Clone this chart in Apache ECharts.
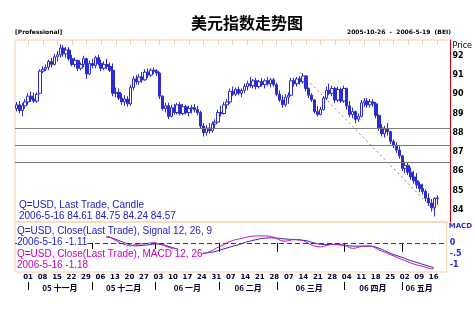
<!DOCTYPE html>
<html><head><meta charset="utf-8">
<script src="https://cdn.jsdelivr.net/npm/echarts@6/dist/echarts.min.js"></script>
<style>html,body{margin:0;padding:0;background:#fff}#c{width:475px;height:313px}</style>
</head><body><div id="c"></div>
<script>
const dates = [
'2005-10-26','2005-10-27','2005-10-28','2005-10-31',
'2005-11-01','2005-11-02','2005-11-03','2005-11-04','2005-11-07','2005-11-08','2005-11-09','2005-11-10','2005-11-11','2005-11-14','2005-11-15','2005-11-16','2005-11-17','2005-11-18','2005-11-21','2005-11-22','2005-11-23','2005-11-24','2005-11-25','2005-11-28','2005-11-29','2005-11-30',
'2005-12-01','2005-12-02','2005-12-05','2005-12-06','2005-12-07','2005-12-08','2005-12-09','2005-12-12','2005-12-13','2005-12-14','2005-12-15','2005-12-16','2005-12-19','2005-12-20','2005-12-21','2005-12-22','2005-12-23','2005-12-26','2005-12-27','2005-12-28','2005-12-29','2005-12-30',
'2006-01-02','2006-01-03','2006-01-04','2006-01-05','2006-01-06','2006-01-09','2006-01-10','2006-01-11','2006-01-12','2006-01-13','2006-01-16','2006-01-17','2006-01-18','2006-01-19','2006-01-20','2006-01-23','2006-01-24','2006-01-25','2006-01-26','2006-01-27','2006-01-30','2006-01-31',
'2006-02-01','2006-02-02','2006-02-03','2006-02-06','2006-02-07','2006-02-08','2006-02-09','2006-02-10','2006-02-13','2006-02-14','2006-02-15','2006-02-16','2006-02-17','2006-02-20','2006-02-21','2006-02-22','2006-02-23','2006-02-24','2006-02-27','2006-02-28',
'2006-03-01','2006-03-02','2006-03-03','2006-03-06','2006-03-07','2006-03-08','2006-03-09','2006-03-10','2006-03-13','2006-03-14','2006-03-15','2006-03-16','2006-03-17','2006-03-20','2006-03-21','2006-03-22','2006-03-23','2006-03-24','2006-03-27','2006-03-28','2006-03-29','2006-03-30','2006-03-31',
'2006-04-03','2006-04-04','2006-04-05','2006-04-06','2006-04-07','2006-04-10','2006-04-11','2006-04-12','2006-04-13','2006-04-14','2006-04-17','2006-04-18','2006-04-19','2006-04-20','2006-04-21','2006-04-24','2006-04-25','2006-04-26','2006-04-27','2006-04-28',
'2006-05-01','2006-05-02','2006-05-03','2006-05-04','2006-05-05','2006-05-08','2006-05-09','2006-05-10','2006-05-11','2006-05-12','2006-05-15','2006-05-16','2006-05-17','2006-05-18','2006-05-19','2006-05-22'
];

const candleOpen = [
89.25,89.45,89.15,89.40,89.60,89.90,89.75,89.65,90.05,91.20,91.30,91.40,91.70,91.55,91.95,92.05,92.40,92.10,92.30,91.85,
91.55,91.75,91.35,91.55,91.85,91.05,91.60,91.50,91.90,91.60,91.35,91.55,91.45,91.25,90.05,90.10,89.80,89.60,89.75,89.50,
90.35,90.80,90.65,90.90,90.75,91.15,91.00,91.25,91.20,91.10,89.90,89.25,89.40,88.85,89.30,89.05,89.45,89.00,89.35,89.05,
89.25,89.30,89.20,89.05,88.35,88.00,88.25,88.10,88.45,88.55,89.05,89.00,89.45,89.60,90.15,90.00,90.25,90.05,90.20,90.40,
90.55,90.45,90.70,90.40,90.65,90.50,90.70,90.55,90.75,90.50,90.00,89.70,89.45,89.85,89.95,90.70,90.55,90.80,90.65,90.95,
90.30,89.95,89.70,89.10,88.95,89.20,89.80,90.20,90.05,90.30,89.70,90.25,89.65,90.30,89.40,88.95,89.10,88.70,88.85,89.55,
89.65,89.45,89.60,89.50,88.90,88.25,87.95,88.20,88.05,87.55,87.35,87.10,86.80,86.15,86.30,85.95,85.70,85.50,85.30,85.10,
84.95,84.60,84.35,84.10,84.61];
const candleHigh = [
89.60,89.65,89.55,89.75,90.05,90.15,90.10,90.10,91.30,91.45,91.55,91.80,91.90,92.10,92.25,92.60,92.55,92.45,92.45,92.05,
91.90,91.80,91.65,92.00,91.90,91.75,91.85,92.00,92.05,91.80,91.70,91.85,91.65,91.60,90.35,90.30,90.05,89.95,89.90,90.50,
90.95,91.00,91.05,91.15,91.30,91.35,91.35,91.40,91.30,91.15,89.95,89.55,89.55,89.45,89.50,89.55,89.60,89.50,89.45,89.40,
89.45,89.50,89.40,89.15,88.50,88.40,88.50,88.60,88.70,89.20,89.40,89.60,89.75,90.30,90.40,90.35,90.40,90.30,90.55,90.70,
90.90,90.80,90.85,90.75,90.85,90.80,90.90,90.85,90.85,90.60,90.20,89.95,90.00,90.10,90.85,90.85,90.90,90.95,91.10,91.00,
90.35,90.05,89.75,89.40,89.35,89.90,90.40,90.55,90.45,90.40,90.40,90.35,90.45,90.35,89.65,89.30,89.15,89.00,89.70,89.80,
89.80,89.75,89.75,89.60,88.95,88.45,88.35,88.50,88.10,87.65,87.50,87.30,86.85,86.50,86.45,86.20,86.00,85.90,85.45,85.35,
85.05,84.85,84.55,84.65,84.75];
const candleLow = [
89.10,89.00,88.85,89.25,89.45,89.60,89.55,89.55,90.00,91.10,91.20,91.25,91.40,91.50,91.70,91.90,91.95,91.90,91.75,91.45,
91.40,91.20,91.25,91.40,90.80,91.00,91.35,91.35,91.50,91.20,91.25,91.30,91.15,89.90,89.85,89.70,89.45,89.40,89.35,89.40,
90.20,90.50,90.50,90.60,90.70,90.85,90.90,91.05,90.95,89.75,89.15,89.05,88.70,88.80,88.95,88.95,88.90,88.90,88.95,88.85,
89.00,89.05,88.90,88.20,87.80,87.85,87.95,88.00,88.20,88.50,88.85,88.95,89.25,89.50,89.90,89.90,89.95,89.85,90.05,90.20,
90.35,90.30,90.25,90.30,90.40,90.30,90.45,90.35,90.40,89.90,89.60,89.30,89.35,89.50,89.90,90.40,90.40,90.50,90.55,90.15,
89.80,89.60,89.00,88.85,88.90,89.15,89.70,89.95,89.90,89.55,89.60,89.55,89.55,89.20,88.80,88.75,88.50,88.55,88.80,89.35,
89.30,89.30,89.35,88.75,88.10,87.80,87.75,87.85,87.40,87.20,86.95,86.65,86.00,85.90,85.80,85.55,85.35,85.10,84.90,84.80,
84.45,84.20,83.90,83.65,84.24];
const candleClose = [
89.45,89.15,89.40,89.60,89.90,89.75,89.65,90.00,91.20,91.30,91.40,91.70,91.55,91.95,92.05,92.40,92.10,92.30,91.85,91.55,
91.75,91.35,91.55,91.85,91.05,91.60,91.50,91.90,91.60,91.35,91.55,91.45,91.25,90.05,90.10,89.80,89.60,89.75,89.50,90.35,
90.80,90.65,90.90,90.75,91.15,91.00,91.25,91.20,91.10,89.90,89.25,89.40,88.85,89.30,89.05,89.45,89.00,89.35,89.05,89.25,
89.30,89.20,89.05,88.35,88.00,88.25,88.10,88.45,88.55,89.05,89.00,89.45,89.60,90.15,90.00,90.25,90.05,90.20,90.40,90.55,
90.45,90.70,90.40,90.65,90.50,90.70,90.55,90.75,90.50,90.00,89.70,89.45,89.85,89.95,90.70,90.55,90.80,90.65,90.95,90.30,
89.95,89.70,89.10,88.95,89.20,89.80,90.20,90.05,90.30,89.70,90.25,89.65,90.30,89.40,88.95,89.10,88.70,88.85,89.55,89.65,
89.45,89.60,89.50,88.90,88.25,87.95,88.20,88.05,87.55,87.35,87.10,86.80,86.15,86.30,85.95,85.70,85.50,85.30,85.10,84.95,
84.60,84.35,84.10,84.60,84.57];

const macdLine = [
null,null,null,null,null,null,null,null,null,null,null,null,null,null,null,null,null,null,null,null,
null,null,null,null,null,null,null,null,null,null,null,0.30,0.28,0.20,0.12,0.05,-0.02,-0.06,-0.10,-0.14,
-0.12,-0.08,-0.06,-0.05,-0.04,-0.03,-0.01,0.00,0.00,-0.04,-0.08,-0.12,-0.18,-0.22,-0.27,-0.30,-0.33,-0.35,-0.37,-0.38,
-0.39,-0.40,-0.42,-0.46,-0.50,-0.48,-0.44,-0.38,-0.32,-0.24,-0.18,-0.12,-0.05,0.02,0.07,0.12,0.15,0.18,0.21,0.24,
0.27,0.29,0.30,0.31,0.31,0.31,0.31,0.30,0.28,0.24,0.18,0.12,0.08,0.07,0.10,0.13,0.15,0.15,0.14,0.10,
0.03,-0.04,-0.10,-0.15,-0.18,-0.19,-0.16,-0.12,-0.09,-0.07,-0.06,-0.07,-0.07,-0.10,-0.16,-0.22,-0.25,-0.24,-0.20,-0.17,
-0.15,-0.14,-0.14,-0.17,-0.24,-0.31,-0.37,-0.42,-0.48,-0.53,-0.58,-0.64,-0.70,-0.75,-0.80,-0.85,-0.90,-0.95,-0.99,-1.02,
-1.05,-1.09,-1.13,-1.17,-1.18];
const signalLine = [
null,null,null,null,null,null,null,null,null,null,null,null,null,null,null,null,null,null,null,null,
null,null,null,null,null,null,null,null,null,null,null,0.26,0.25,0.22,0.17,0.12,0.07,0.02,-0.03,-0.08,
-0.12,-0.14,-0.13,-0.12,-0.11,-0.10,-0.08,-0.06,-0.05,-0.05,-0.07,-0.10,-0.14,-0.18,-0.22,-0.26,-0.30,-0.33,-0.36,-0.38,
-0.40,-0.41,-0.42,-0.44,-0.46,-0.46,-0.45,-0.43,-0.41,-0.38,-0.34,-0.30,-0.26,-0.22,-0.18,-0.14,-0.11,-0.07,-0.03,0.02,
0.06,0.09,0.12,0.15,0.18,0.20,0.21,0.22,0.22,0.22,0.21,0.20,0.18,0.17,0.16,0.15,0.14,0.13,0.12,0.11,
0.10,0.06,0.02,-0.02,-0.05,-0.07,-0.08,-0.08,-0.07,-0.07,-0.08,-0.09,-0.10,-0.11,-0.12,-0.14,-0.15,-0.15,-0.15,-0.15,
-0.15,-0.15,-0.15,-0.16,-0.19,-0.24,-0.29,-0.35,-0.41,-0.47,-0.52,-0.57,-0.61,-0.65,-0.70,-0.75,-0.80,-0.84,-0.88,-0.92,
-0.96,-1.00,-1.04,-1.08,-1.11];

const supportLevels = [88.21, 87.36, 86.46];
const trendLine = [['2006-03-10', 91.14], ['2006-05-15', 83.96]];
const monthStarts = ['2005-11-01','2005-12-01','2006-01-02','2006-02-01','2006-03-01','2006-04-03','2006-05-01'];
const monthLabelDates = ['2005-11-16','2005-12-16','2006-01-17','2006-02-15','2006-03-16','2006-04-17','2006-05-09'];
const monthNames = ['一月','二月','三月','四月','五月','六月','七月','八月','九月','十月','十一月','十二月'];
const priceLabels = [84,85,86,87,88,89,90,91,92];
const macdLabels = {'0':'0','-0.5':'-.5','-1':'-1'};

const BLUE = '#2c2cd4', MAG = '#cc10cc', TAN = '#f3cfa8', RED = '#d40000';
const candleData = candleOpen.map((o, i) => [o, candleClose[i], candleLow[i], candleHigh[i]]);
const isTue = (i, v) => new Date(v + 'T00:00:00Z').getUTCDay() === 2;
const isMonthStart = (i, v) => monthStarts.indexOf(v) >= 0;
const isMonthStartInner = (i, v) => monthStarts.indexOf(v) > 0;
const isMonthLabel = (i, v) => monthLabelDates.indexOf(v) >= 0;

const chart = echarts.init(document.getElementById('c'), null, {renderer: 'canvas'});
chart.setOption({
  animation: false,
  backgroundColor: '#ffffff',
  title: {text: '美元指数走势图', left: 186, top: 10,
    textStyle: {fontFamily: 'Noto Sans CJK SC', fontSize: 16, fontWeight: 'bold', color: '#000'}},
  grid: [
    {left: 15, top: 40, width: 436, height: 182, show: true, borderColor: TAN, borderWidth: 1, backgroundColor: 'transparent'},
    {left: 15, top: 222, width: 436, height: 50, show: true, borderColor: TAN, borderWidth: 1, backgroundColor: 'transparent'}
  ],
  xAxis: [
    {gridIndex: 0, type: 'category', data: dates, position: 'top', boundaryGap: true,
     axisLine: {show: false}, axisLabel: {show: false}, splitLine: {show: false},
     axisTick: {show: true, inside: true, length: 5, interval: isTue, alignWithLabel: true, lineStyle: {color: TAN}}},
    {gridIndex: 1, type: 'category', data: dates, position: 'bottom', boundaryGap: true,
     axisLine: {show: false}, splitLine: {show: false},
     axisTick: {show: true, length: 9, interval: isMonthStartInner, alignWithLabel: true, lineStyle: {color: '#000'}},
     axisLabel: {interval: isTue, margin: 2, fontSize: 7, fontWeight: 'bold', fontFamily: 'DejaVu Sans', color: '#000033',
       formatter: v => v.slice(8, 10)}},
    {gridIndex: 1, type: 'category', data: dates, position: 'bottom', offset: 10, boundaryGap: true,
     axisLine: {show: false}, splitLine: {show: false},
     axisTick: {show: true, length: 8, interval: isMonthStart, alignWithLabel: true, lineStyle: {color: '#000'}},
     axisLabel: {interval: isMonthLabel, margin: 2, fontSize: 8, fontWeight: 'bold', fontFamily: 'Noto Sans CJK SC', color: '#000033',
       formatter: v => v.slice(2, 4) + ' ' + monthNames[parseInt(v.slice(5, 7), 10) - 1]}}
  ],
  yAxis: [
    {gridIndex: 0, type: 'value', position: 'right', min: 83.36, max: 92.82, minInterval: 1, maxInterval: 1,
     name: 'Price', nameLocation: 'end', nameGap: -2,
     nameTextStyle: {align: 'left', verticalAlign: 'top', fontSize: 8, fontFamily: 'DejaVu Sans', color: '#000', padding: [0, 0, 0, 2]},
     axisLine: {show: true, lineStyle: {color: RED}}, axisTick: {show: false}, splitLine: {show: false},
     axisLabel: {margin: 2, fontSize: 8, fontWeight: 'bold', fontFamily: 'DejaVu Sans', color: '#000', showMinLabel: false, showMaxLabel: false,
       formatter: v => priceLabels.indexOf(Math.round(v * 100) / 100) >= 0 ? String(v) : ''}},
    {gridIndex: 1, type: 'value', position: 'right', min: -1.315, max: 0.937, minInterval: 0.5, maxInterval: 0.5,
     name: 'MACD', nameLocation: 'end', nameGap: -1,
     nameTextStyle: {align: 'left', verticalAlign: 'top', fontSize: 7, fontWeight: 'bold', fontFamily: 'DejaVu Sans', color: BLUE, padding: [0, 0, 0, 2]},
     axisLine: {show: false}, axisTick: {show: false}, splitLine: {show: false},
     axisLabel: {margin: 3, fontSize: 8, fontWeight: 'bold', fontFamily: 'DejaVu Sans', color: BLUE, showMinLabel: false, showMaxLabel: false,
       formatter: v => macdLabels[String(Math.round(v * 100) / 100)] || ''}}
  ],
  series: [
    {type: 'candlestick', xAxisIndex: 0, yAxisIndex: 0, barWidth: 3, data: candleData,
     itemStyle: {color: '#ffffff', color0: BLUE, borderColor: BLUE, borderColor0: BLUE, borderWidth: 1},
     markLine: {silent: true, symbol: 'none', label: {show: false}, animation: false,
       data: supportLevels.map(v => ({yAxis: v, lineStyle: {color: '#7a7a7a', width: 1.2, type: 'solid'}}))
         .concat([[{coord: trendLine[0], lineStyle: {color: '#808080', width: 1, type: [2, 3]}}, {coord: trendLine[1]}]])}},
    {type: 'line', xAxisIndex: 1, yAxisIndex: 1, data: signalLine, showSymbol: false, symbol: 'none',
     lineStyle: {color: '#2a2aa8', width: 1}, z: 3,
     markLine: {silent: true, symbol: 'none', label: {show: false},
       data: [{yAxis: 0, lineStyle: {color: BLUE, width: 1, type: [5, 3]}}]}},
    {type: 'line', xAxisIndex: 1, yAxisIndex: 1, data: macdLine, showSymbol: false, symbol: 'none',
     lineStyle: {color: MAG, width: 1}, z: 4}
  ],
  graphic: [
    {type: 'text', left: 15, top: 29, z: 100, style: {text: '[Professional]', font: 'bold 6px "DejaVu Sans"', fill: '#000'}},
    {type: 'text', left: 347, top: 29, z: 100, style: {text: '2005-10-26  -  2006-5-19  (BEI)', font: 'bold 6px "DejaVu Sans"', fill: '#000'}},
    {type: 'text', left: 19, top: 200, z: 100, style: {text: 'Q=USD, Last Trade, Candle', font: '10px "Liberation Sans"', fill: '#2020c0'}},
    {type: 'text', left: 19, top: 211, z: 100, style: {text: '2006-5-16 84.61 84.75 84.24 84.57', font: '10px "Liberation Sans"', fill: '#2020c0'}},
    {type: 'text', left: 17, top: 226, z: 100, style: {text: 'Q=USD, Close(Last Trade), Signal 12, 26, 9', font: '10px "Liberation Sans"', fill: '#2020c0', backgroundColor: '#fff'}},
    {type: 'text', left: 17, top: 237.5, z: 100, style: {text: '2006-5-16 -1.11', font: '10px "Liberation Sans"', fill: '#2020c0', backgroundColor: '#fff'}},
    {type: 'text', left: 17, top: 249, z: 100, style: {text: 'Q=USD, Close(Last Trade), MACD 12, 26', font: '10px "Liberation Sans"', fill: '#c000c0', backgroundColor: '#fff'}},
    {type: 'text', left: 17, top: 260, z: 100, style: {text: '2006-5-16 -1.18', font: '10px "Liberation Sans"', fill: '#c000c0', backgroundColor: '#fff'}}
  ]
});
</script></body></html>
